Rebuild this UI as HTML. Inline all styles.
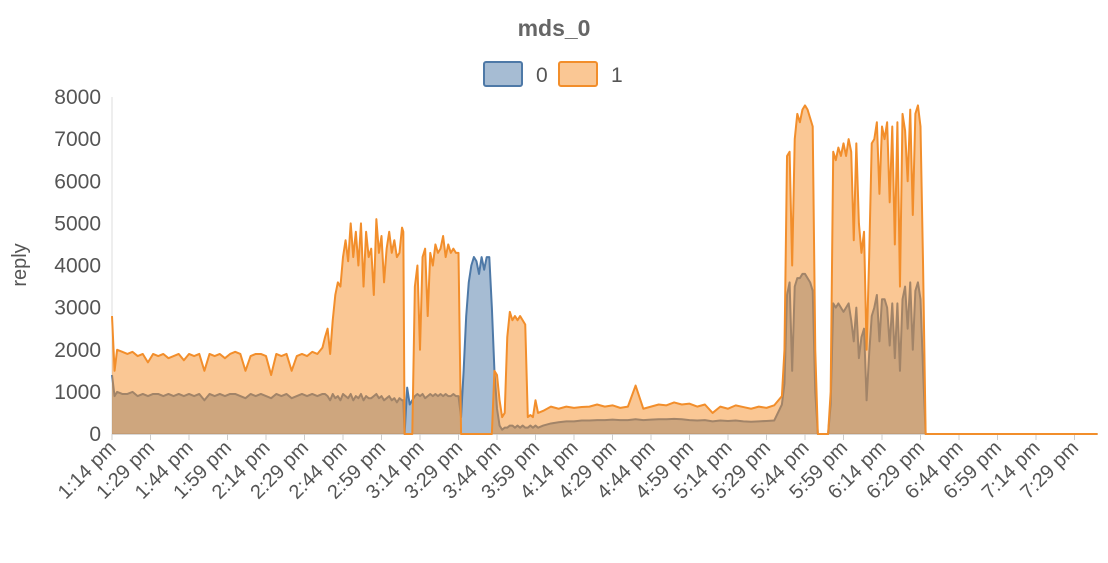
<!DOCTYPE html>
<html><head><meta charset="utf-8"><style>
body{margin:0;background:#fff;font-family:"Liberation Sans",sans-serif}
svg text{font-family:"Liberation Sans",sans-serif}
</style></head><body>
<svg id="chart" width="1108" height="558" viewBox="0 0 1108 558" xmlns="http://www.w3.org/2000/svg">
<text x="554" y="36" text-anchor="middle" font-size="23" font-weight="bold" fill="#666">mds_0</text>
<g>
<rect x="484" y="62" width="38" height="24" rx="2" fill="rgba(78,121,167,0.5)" stroke="#4e79a7" stroke-width="2"/>
<text x="536" y="82" font-size="21" fill="#555">0</text>
<rect x="559" y="62" width="38" height="24" rx="2" fill="rgba(245,143,41,0.5)" stroke="#f28e2b" stroke-width="2"/>
<text x="611" y="82" font-size="21" fill="#555">1</text>
</g>
<text transform="translate(26,265) rotate(-90)" text-anchor="middle" font-size="20" fill="#555">reply</text>
<g id="yaxis"></g>
<g id="xaxis"></g>
<g id="plot"></g>
</svg>
<script>
const yTicks=[0,1000,2000,3000,4000,5000,6000,7000,8000];
const xTickLabels=["1:14 pm","1:29 pm","1:44 pm","1:59 pm","2:14 pm","2:29 pm","2:44 pm","2:59 pm","3:14 pm","3:29 pm","3:44 pm","3:59 pm","4:14 pm","4:29 pm","4:44 pm","4:59 pm","5:14 pm","5:29 pm","5:44 pm","5:59 pm","6:14 pm","6:29 pm","6:44 pm","6:59 pm","7:14 pm","7:29 pm"];
// minutes since 1:14 pm
const times=[0,1,2,4,6,8,10,12,14,16,18,20,22,24,26,28,30,32,34,36,38,40,42,44,46,48,50,52,54,56,58,60,62,64,66,68,70,72,74,76,78,80,82,
83,84,85,86,87,88,89,90,91,92,93,94,95,96,97,98,99,100,101,102,103,104,105,106,107,108,109,110,111,112,113,113.5,
114,115,116,117,118,
119,120,121,122,123,124,125,126,127,128,129,130,131,132,133,134,135,
136,137,138,139,140,141,142,143,144,145,146,147,148,149,
150,151,152,153,154,155,156,157,158,159,160,161,162,163,164,165,166,
168,171,174,177,180,183,186,189,192,195,198,201,204,207,210,213,216,219,222,225,228,231,234,237,240,243,246,249,252,255,258,
261,262,263,264,265,266,267,268,269,270,271,272,273,274,275,276,277,279,280,
281,282,283,284,285,286,287,288,289,290,291,292,293,294,295,296,297,298,299,300,301,302,303,304,305,306,307,308,309,310,311,312,313,314,315,316,317,
318,384];
const series1=[2800,1500,2000,1950,1900,1950,1850,1900,1700,1900,1850,1900,1800,1850,1900,1750,1900,1850,1900,1500,1900,1850,1900,1800,1900,1950,1900,1500,1850,1900,1900,1850,1400,1900,1850,1900,1500,1850,1900,1850,1950,1900,2050,
2300,2500,1900,2700,3300,3600,3500,4200,4600,4100,5000,4200,4800,4000,5000,3500,4800,4200,4400,3300,5100,4300,4700,3600,4400,4800,4300,4600,4200,4300,4900,4800,
0,0,0,0,3500,
4000,2000,4200,4400,2800,4300,4000,4500,4300,4400,4700,4200,4500,4300,4400,4300,4300,
0,0,0,0,0,0,0,0,0,0,0,0,0,1500,
1400,800,400,500,2300,2900,2700,2800,2700,2800,2700,2600,400,450,400,800,500,
550,650,600,650,620,640,650,700,650,680,620,650,1150,600,650,700,680,750,700,720,650,700,500,650,600,680,640,600,650,620,680,
900,2000,6600,6700,4000,7000,7600,7400,7700,7800,7700,7500,7300,2000,0,0,0,0,1000,
6700,6500,6800,6600,6900,6600,7000,6700,4600,6900,5000,4300,4800,2000,4200,6900,7000,7400,5700,7300,7000,7400,5500,7300,4500,7400,3500,7600,7200,6000,7700,5200,7600,7800,7300,4000,0,
0,0];
const series0=[1400,900,1000,950,950,1000,900,950,900,950,950,900,950,900,950,900,950,900,950,800,950,900,950,900,950,950,900,850,950,900,950,900,850,950,900,950,850,900,950,900,950,900,950,
950,900,800,950,850,900,800,950,900,850,950,800,900,850,950,800,900,850,850,900,950,850,900,800,850,900,800,850,750,850,800,800,
0,1100,700,800,900,
950,900,950,850,900,950,900,950,900,950,900,950,900,900,950,900,900,
400,1500,2800,3600,4000,4200,4100,3800,4200,3900,4200,4200,3000,1500,
600,200,100,150,150,200,200,150,200,150,200,150,150,200,150,200,150,
200,250,280,300,300,320,320,330,330,340,330,330,350,330,340,350,350,360,350,330,320,330,300,320,310,320,300,290,300,310,320,
700,1200,3300,3600,1500,3500,3700,3700,3800,3800,3700,3600,3400,1000,0,0,0,0,700,
3100,3000,3100,3000,2900,3000,3100,2700,2200,3000,1800,2300,2500,800,1900,2800,3000,3300,2200,3200,3200,3000,2100,3100,1800,3100,1500,3200,3500,2500,3600,2000,3400,3600,3200,1500,0,
0,0];
const NS="http://www.w3.org/2000/svg";
const X0=112,PXMIN=38.5/15,Y0=434,YTOP=97;
const xs=m=>X0+m*PXMIN;
const ys=v=>Y0-v*(Y0-YTOP)/8000;
function mk(tag,attrs,parent){const e=document.createElementNS(NS,tag);for(const k in attrs)e.setAttribute(k,attrs[k]);parent.appendChild(e);return e;}
const yg=document.getElementById('yaxis'),xg=document.getElementById('xaxis'),pg=document.getElementById('plot');
mk('line',{x1:X0,y1:YTOP,x2:X0,y2:Y0,stroke:'#ddd','stroke-width':1},yg);
yTicks.forEach(v=>{const t=mk('text',{x:101,y:ys(v)+7,'text-anchor':'end','font-size':21,fill:'#555'},yg);t.textContent=v;

});
mk('line',{x1:X0,y1:Y0,x2:1097,y2:Y0,stroke:'#ccc','stroke-width':1.5},xg);
xTickLabels.forEach((l,i)=>{const x=xs(i*15);
mk('line',{x1:x,y1:Y0,x2:x,y2:Y0+6,stroke:'#ccc'},xg);
const t=mk('text',{transform:`translate(${x+5},${Y0+15}) rotate(-45)`,'text-anchor':'end','font-size':20,fill:'#555'},xg);t.textContent=l;

});
function draw(vals,fill,stroke,name){
 let d='M'+xs(times[0])+','+Y0;
 let l='';
 times.forEach((t,i)=>{d+='L'+xs(t)+','+ys(vals[i]);l+=(i?'L':'M')+xs(t)+','+ys(vals[i]);});
 d+='L'+xs(times[times.length-1])+','+Y0+'Z';
 const a=mk('path',{d:d,fill:fill,stroke:'none'},pg);
 
 
 const p=mk('path',{d:l,fill:'none',stroke:stroke,'stroke-width':2,'stroke-linejoin':'round'},pg);
 
 
}
draw(series0,'rgba(78,121,167,0.5)','#4e79a7','series-0');
draw(series1,'rgba(245,143,41,0.5)','#f28e2b','series-1');
</script>
</body></html>
